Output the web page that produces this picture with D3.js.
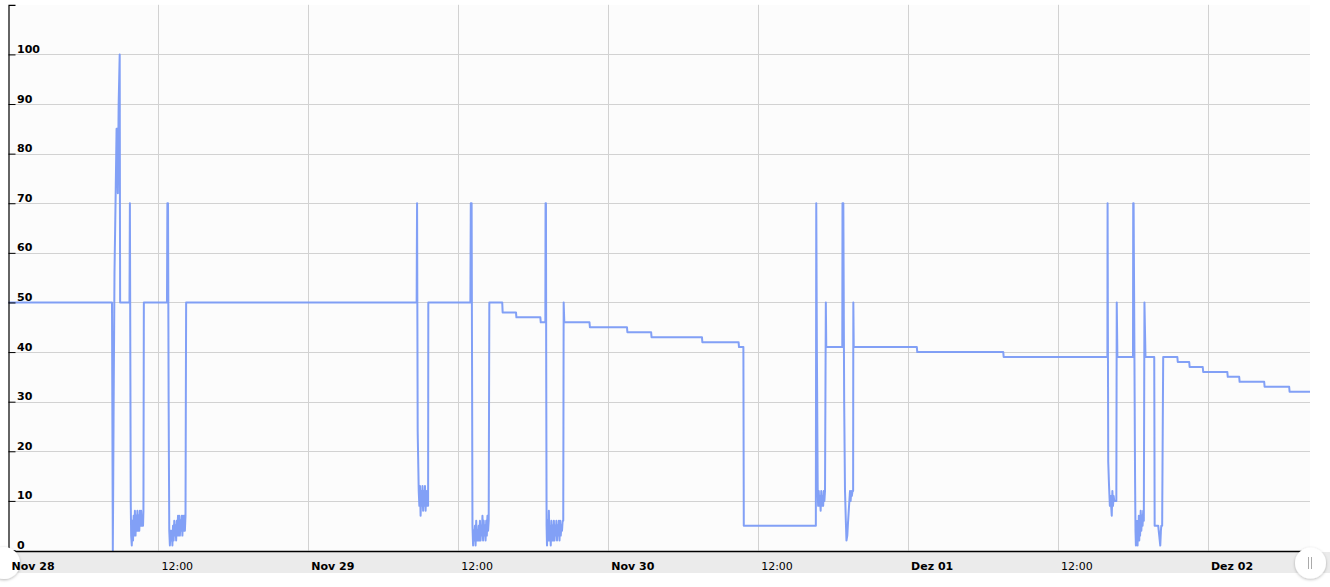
<!DOCTYPE html>
<html><head><meta charset="utf-8">
<script src="https://cdn.jsdelivr.net/npm/d3@7"></script>
<style>
body{margin:0;background:#fff;}
svg{display:block;}
text{font-family:"DejaVu Sans",Verdana,sans-serif;fill:#000;}
</style>
</head><body>
<svg id="chart" width="1330" height="587"></svg>
<script>
const year = 2016;
const domainStart = "11-28 00:00";
const domainEnd = "12-02 08:10";
const yDomain = [0, 110];
const yTickValues = [0, 10, 20, 30, 40, 50, 60, 70, 80, 90, 100];
const xTickTimes = ["11-28 00:00","11-28 12:00","11-29 00:00","11-29 12:00","11-30 00:00","11-30 12:00","12-01 00:00","12-01 12:00","12-02 00:00"];
const xTickLabels = ["Nov 28","12:00","Nov 29","12:00","Nov 30","12:00","Dez 01","12:00","Dez 02"];
const xTickBold = [true,false,true,false,true,false,true,false,true];

const series = [
["11-28 00:00",50],["11-28 08:17",50],["11-28 08:21",0],["11-28 08:25",30],["11-28 08:29",56],["11-28 08:34",70],
["11-28 08:39",85],["11-28 08:42",85],["11-28 08:45",72],["11-28 08:49",90],["11-28 08:54",100],["11-28 08:56",50],
["11-28 09:41",50],["11-28 09:43",70],["11-28 09:47",10],
["11-28 09:49",3],["11-28 09:52",1],["11-28 09:55",6],["11-28 09:58",2],["11-28 10:01",7],["11-28 10:04",3],["11-28 10:07",8],
["11-28 10:10",3],["11-28 10:13",7],["11-28 10:16",4],["11-28 10:19",8],["11-28 10:22",4],["11-28 10:25",7],["11-28 10:28",4],
["11-28 10:31",8],["11-28 10:34",5],["11-28 10:37",8],["11-28 10:40",5],["11-28 10:43",7],["11-28 10:46",5],["11-28 10:48",8],
["11-28 10:50",50],["11-28 12:41",50],["11-28 12:43",70],["11-28 12:46",70],["11-28 12:49",30],["11-28 12:52",4],
["11-28 12:55",1],["11-28 12:58",4],["11-28 13:01",2],["11-28 13:04",4],["11-28 13:07",1],["11-28 13:10",5],["11-28 13:13",2],
["11-28 13:16",6],["11-28 13:19",3],["11-28 13:22",5],["11-28 13:25",2],["11-28 13:28",6],["11-28 13:31",3],["11-28 13:34",7],
["11-28 13:37",3],["11-28 13:40",7],["11-28 13:43",3],["11-28 13:46",6],["11-28 13:49",4],["11-28 13:52",7],["11-28 13:55",3],
["11-28 13:58",7],["11-28 14:01",4],["11-28 14:04",7],["11-28 14:07",4],["11-28 14:10",7],["11-28 14:13",50],
["11-29 08:40",50],["11-29 08:42",70],["11-29 08:45",24],["11-29 08:50",12],
["11-29 08:53",9],["11-29 08:56",13],["11-29 08:59",7],["11-29 09:02",12],["11-29 09:05",9],["11-29 09:08",13],["11-29 09:11",8],
["11-29 09:14",12],["11-29 09:17",9],["11-29 09:20",13],["11-29 09:23",8],["11-29 09:26",12],["11-29 09:29",9],["11-29 09:32",12],
["11-29 09:35",9],["11-29 09:36",50],
["11-29 12:58",50],["11-29 13:00",70],["11-29 13:04",70],["11-29 13:08",5],
["11-29 13:11",1],["11-29 13:14",4],["11-29 13:17",2],["11-29 13:20",5],["11-29 13:23",1],["11-29 13:26",6],["11-29 13:29",2],
["11-29 13:32",4],["11-29 13:35",2],["11-29 13:38",5],["11-29 13:41",2],["11-29 13:44",6],["11-29 13:47",2],["11-29 13:50",5],
["11-29 13:53",3],["11-29 13:56",7],["11-29 13:59",2],["11-29 14:02",6],["11-29 14:05",3],["11-29 14:08",5],["11-29 14:11",2],
["11-29 14:14",6],["11-29 14:17",3],["11-29 14:20",7],["11-29 14:23",4],["11-29 14:26",6],["11-29 14:29",50],
["11-29 15:31",50],["11-29 15:33",48],["11-29 16:37",48],["11-29 16:39",47],["11-29 18:34",47],["11-29 18:36",46],
["11-29 18:58",46],["11-29 18:59",70],["11-29 19:01",70],["11-29 19:02",40],["11-29 19:04",5],
["11-29 19:06",1],["11-29 19:09",6],["11-29 19:12",2],["11-29 19:15",8],["11-29 19:18",2],["11-29 19:21",5],["11-29 19:24",1],
["11-29 19:27",6],["11-29 19:30",2],["11-29 19:33",5],["11-29 19:36",2],["11-29 19:39",6],["11-29 19:42",2],["11-29 19:45",5],
["11-29 19:48",3],["11-29 19:51",6],["11-29 19:54",2],["11-29 19:57",5],["11-29 20:00",3],["11-29 20:03",6],["11-29 20:06",2],
["11-29 20:09",6],["11-29 20:12",3],["11-29 20:15",5],["11-29 20:18",4],["11-29 20:21",6],["11-29 20:24",6],["11-29 20:26",50],
["11-29 20:29",46],["11-29 22:30",46],["11-29 22:32",45],
["11-30 01:30",45],["11-30 01:32",44],["11-30 03:26",44],["11-30 03:28",43],["11-30 07:30",43],["11-30 07:32",42],
["11-30 10:26",42],["11-30 10:28",41],["11-30 10:49",41],["11-30 10:51",5],["11-30 16:37",5],["11-30 16:39",70],
["11-30 16:42",40],["11-30 16:46",12],
["11-30 16:48",9],["11-30 16:51",12],["11-30 16:54",9],["11-30 16:57",11],["11-30 17:00",8],["11-30 17:03",12],["11-30 17:06",9],
["11-30 17:09",11],["11-30 17:12",9],["11-30 17:15",12],["11-30 17:18",10],["11-30 17:21",12],["11-30 17:25",50],["11-30 17:27",41],
["11-30 18:44",41],["11-30 18:45",70],["11-30 18:49",70],["11-30 18:53",30],["11-30 18:57",12],["11-30 19:01",6],["11-30 19:04",2],
["11-30 19:08",3],["11-30 19:12",6],["11-30 19:15",8],["11-30 19:18",10],["11-30 19:21",12],["11-30 19:24",10],["11-30 19:27",12],
["11-30 19:30",11],["11-30 19:33",12],["11-30 19:36",12],["11-30 19:37",50],["11-30 19:39",41],
["12-01 00:42",41],["12-01 00:44",40],["12-01 07:37",40],["12-01 07:39",39],["12-01 15:57",39],["12-01 15:58",70],
["12-01 16:01",18],["12-01 16:05",13],["12-01 16:09",9],["12-01 16:12",11],["12-01 16:15",9],["12-01 16:18",7],["12-01 16:21",12],
["12-01 16:24",9],["12-01 16:27",11],["12-01 16:30",10],["12-01 16:33",10],["12-01 16:36",10],["12-01 16:40",10],["12-01 16:42",50],
["12-01 16:45",39],["12-01 18:00",39],["12-01 18:01",70],["12-01 18:03",70],["12-01 18:10",14],
["12-01 18:12",4],["12-01 18:14",1],["12-01 18:16",6],["12-01 18:18",2],["12-01 18:20",5],["12-01 18:22",1],["12-01 18:24",6],
["12-01 18:26",3],["12-01 18:28",7],["12-01 18:30",2],["12-01 18:32",6],["12-01 18:34",3],["12-01 18:37",8],["12-01 18:40",4],
["12-01 18:43",7],["12-01 18:46",5],["12-01 18:49",8],["12-01 18:52",6],["12-01 18:55",50],["12-01 19:00",39],
["12-01 19:42",39],["12-01 19:44",5],["12-01 20:01",5],["12-01 20:06",3],["12-01 20:11",1],["12-01 20:14",4],["12-01 20:16",5],
["12-01 20:20",5],["12-01 20:25",39],["12-01 21:33",39],["12-01 21:35",38],["12-01 22:30",38],["12-01 22:32",37],
["12-01 23:35",37],["12-01 23:37",36],
["12-02 01:33",36],["12-02 01:35",35],["12-02 02:30",35],["12-02 02:32",34],["12-02 04:30",34],["12-02 04:32",33],
["12-02 06:30",33],["12-02 06:32",32],["12-02 08:10",32]
];

const parse = d3.timeParse("%Y-%m-%d %H:%M");
const t = s => parse(year + "-" + s);

const svg = d3.select("#chart");
const plotLeft = 8.5, plotRight = 1310, plotTop = 4.8, plotBottom = 550.5;

const x = d3.scaleTime().domain([t(domainStart), t(domainEnd)]).range([plotLeft, plotRight]);
const y = d3.scaleLinear().domain(yDomain).range([plotBottom, plotTop]);

const defs = svg.append("defs");
const f = defs.append("filter").attr("id","sh").attr("x","-50%").attr("y","-50%").attr("width","200%").attr("height","200%");
f.append("feDropShadow").attr("dx",0).attr("dy",1).attr("stdDeviation",1.6).attr("flood-color","#000").attr("flood-opacity",0.28);

// plot background
svg.append("rect").attr("x",plotLeft).attr("y",plotTop).attr("width",plotRight-plotLeft).attr("height",plotBottom-plotTop).attr("fill","#fcfcfc");

// gridlines
const grid = svg.append("g");
grid.selectAll("line.h").data(yTickValues.filter(v=>v>0)).join("line")
  .attr("x1",plotLeft).attr("x2",plotRight)
  .attr("y1",d=>Math.round(y(d))+0.5).attr("y2",d=>Math.round(y(d))+0.5)
  .attr("stroke","#d2d2d2").attr("stroke-width",1);
grid.selectAll("line.v").data(xTickTimes.slice(1)).join("line")
  .attr("x1",d=>Math.round(x(t(d)))+0.5).attr("x2",d=>Math.round(x(t(d)))+0.5)
  .attr("y1",plotTop).attr("y2",plotBottom)
  .attr("stroke","#d2d2d2").attr("stroke-width",1);

// bottom band
svg.append("rect").attr("x",0).attr("y",552).attr("width",1330).attr("height",21).attr("fill","#ebebeb");

// line
const line = d3.line().x(d=>x(t(d[0]))).y(d=>y(d[1])).curve(d3.curveLinear);
svg.append("path").datum(series).attr("d",line)
  .attr("fill","none").attr("stroke","#7b9bf6").attr("stroke-width",2).attr("stroke-linejoin","round").attr("stroke-opacity",0.95);

// y axis
const yAxis = d3.axisRight(y).tickValues(yTickValues).tickSize(7).tickFormat(d3.format("d"));
const ya = svg.append("g").attr("transform",`translate(${plotLeft},0)`).call(yAxis);
ya.select(".domain").attr("stroke","#000").attr("stroke-width",1.2);
ya.selectAll(".tick line").attr("stroke","#000");
ya.selectAll(".tick text").attr("x",8.5).attr("y",-2).attr("dy",0)
  .style("font-family","'DejaVu Sans',Verdana,sans-serif").style("font-size","11px").style("font-weight","bold").attr("fill","#000");

// x axis line
svg.append("line").attr("x1",plotLeft).attr("x2",plotRight).attr("y1",551.5).attr("y2",551.5).attr("stroke","#000").attr("stroke-width",1.3);

// handles
svg.append("circle").attr("cx",4).attr("cy",563).attr("r",16).attr("fill","#fff").attr("filter","url(#sh)");
const rh = svg.append("g");
rh.append("circle").attr("cx",1310.5).attr("cy",563).attr("r",15.5).attr("fill","#fff").attr("filter","url(#sh)");
rh.append("line").attr("x1",1308.5).attr("x2",1308.5).attr("y1",557).attr("y2",569).attr("stroke","#aaa");
rh.append("line").attr("x1",1311.5).attr("x2",1311.5).attr("y1",557).attr("y2",569).attr("stroke","#aaa");

// x labels
svg.append("g").selectAll("text").data(xTickTimes).join("text")
  .attr("x",d=>x(t(d))+3)
  .attr("y",570)
  .style("font-size","11px")
  .style("font-weight",(d,i)=>xTickBold[i]?"bold":"normal")
  .text((d,i)=>xTickLabels[i]);
</script>
</body></html>
